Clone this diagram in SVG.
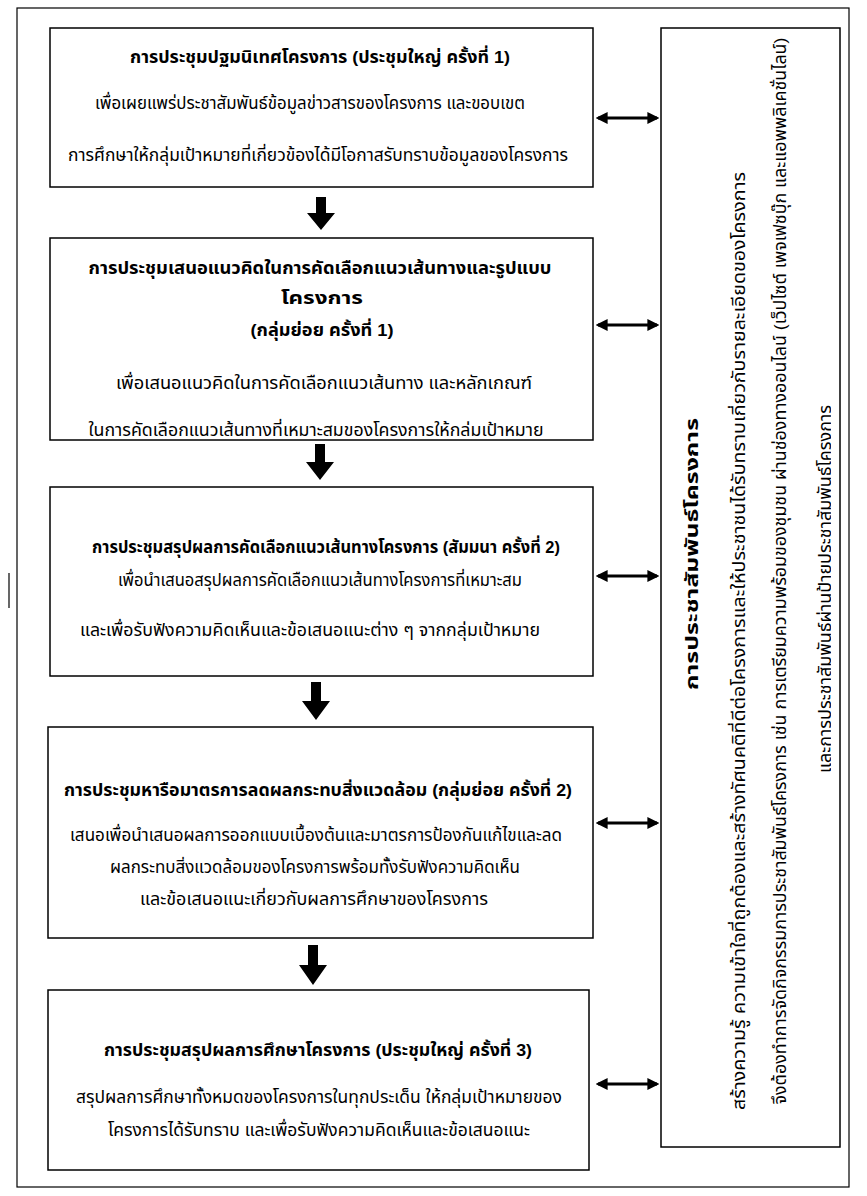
<svg xmlns="http://www.w3.org/2000/svg" width="867" height="1196" viewBox="0 0 867 1196">
<style>
.box{fill:#fff;stroke:#000;stroke-width:1.5}
.frame{fill:none;stroke:#000;stroke-width:1.2}
text{font-family:"Liberation Sans","Noto Sans Thai","Noto Sans","DejaVu Sans",sans-serif;font-size:17px;fill:#000;text-anchor:middle}
.b{font-weight:bold;font-size:17px}
.dbl{stroke:#000;stroke-width:3;fill:none;marker-start:url(#ah);marker-end:url(#ah)}
.down{fill:#000}
</style>
<defs>
<marker id="ah" viewBox="0 0 10 10" refX="8" refY="5" markerWidth="4" markerHeight="4" orient="auto-start-reverse" markerUnits="strokeWidth">
<path d="M0,0 L10,5 L0,10 z" fill="#000"/>
</marker>
<clipPath id="clip4"><rect x="800" y="28" width="31" height="1119"/></clipPath>
</defs>
<rect width="867" height="1196" fill="#fff"/>
<rect class="frame" x="17" y="8" width="832" height="1179"/>
<line x1="9" y1="573" x2="9" y2="608" stroke="#000" stroke-width="1.2"/>

<g id="n1">
<rect class="box" x="50" y="28" width="543" height="159"/>
<text class="b" x="320" y="63" textLength="380" lengthAdjust="spacingAndGlyphs">การประชุมปฐมนิเทศโครงการ (ประชุมใหญ่ ครั้งที่ 1)</text>
<text x="310" y="109" textLength="430" lengthAdjust="spacingAndGlyphs">เพื่อเผยแพร่ประชาสัมพันธ์ข้อมูลข่าวสารของโครงการ  และขอบเขต</text>
<text x="318" y="161" textLength="500" lengthAdjust="spacingAndGlyphs">การศึกษาให้กลุ่มเป้าหมายที่เกี่ยวข้องได้มีโอกาสรับทราบข้อมูลของโครงการ</text>
</g>

<g id="n2">
<rect class="box" x="50" y="238" width="543" height="202"/>
<text class="b" x="320" y="274" textLength="463" lengthAdjust="spacingAndGlyphs">การประชุมเสนอแนวคิดในการคัดเลือกแนวเส้นทางและรูปแบบ</text>
<text class="b" x="322" y="304" textLength="82" lengthAdjust="spacingAndGlyphs">โครงการ</text>
<text class="b" x="322" y="336" textLength="143" lengthAdjust="spacingAndGlyphs">(กลุ่มย่อย ครั้งที่ 1)</text>
<text x="324" y="389" textLength="416" lengthAdjust="spacingAndGlyphs">เพื่อเสนอแนวคิดในการคัดเลือกแนวเส้นทาง  และหลักเกณฑ์</text>
<text x="316" y="436" textLength="455" lengthAdjust="spacingAndGlyphs">ในการคัดเลือกแนวเส้นทางที่เหมาะสมของโครงการให้กล่มเป้าหมาย</text>
</g>

<g id="n3">
<rect class="box" x="50" y="487" width="543" height="189"/>
<text class="b" x="326" y="553" textLength="468" lengthAdjust="spacingAndGlyphs">การประชุมสรุปผลการคัดเลือกแนวเส้นทางโครงการ (สัมมนา ครั้งที่ 2)</text>
<text x="320" y="586" textLength="404" lengthAdjust="spacingAndGlyphs">เพื่อนำเสนอสรุปผลการคัดเลือกแนวเส้นทางโครงการที่เหมาะสม</text>
<text x="310" y="636" textLength="460" lengthAdjust="spacingAndGlyphs">และเพื่อรับฟังความคิดเห็นและข้อเสนอแนะต่าง  ๆ จากกลุ่มเป้าหมาย</text>
</g>

<g id="n4">
<rect class="box" x="48" y="727" width="545" height="211"/>
<text class="b" x="318" y="796" textLength="508" lengthAdjust="spacingAndGlyphs">การประชุมหารือมาตรการลดผลกระทบสิ่งแวดล้อม (กลุ่มย่อย ครั้งที่ 2)</text>
<text x="316" y="841" textLength="492" lengthAdjust="spacingAndGlyphs">เสนอเพื่อนำเสนอผลการออกแบบเบื้องต้นและมาตรการป้องกันแก้ไขและลด</text>
<text x="315" y="873" textLength="410" lengthAdjust="spacingAndGlyphs">ผลกระทบสิ่งแวดล้อมของโครงการพร้อมทั้งรับฟังความคิดเห็น</text>
<text x="314" y="905" textLength="348" lengthAdjust="spacingAndGlyphs">และข้อเสนอแนะเกี่ยวกับผลการศึกษาของโครงการ</text>
</g>

<g id="n5">
<rect class="box" x="48" y="990" width="541" height="180"/>
<text class="b" x="318" y="1056" textLength="428" lengthAdjust="spacingAndGlyphs">การประชุมสรุปผลการศึกษาโครงการ (ประชุมใหญ่ ครั้งที่ 3)</text>
<text x="319" y="1103" textLength="486" lengthAdjust="spacingAndGlyphs">สรุปผลการศึกษาทั้งหมดของโครงการในทุกประเด็น ให้กลุ่มเป้าหมายของ</text>
<text x="319" y="1136" textLength="422" lengthAdjust="spacingAndGlyphs">โครงการได้รับทราบ และเพื่อรับฟังความคิดเห็นและข้อเสนอแนะ</text>
</g>

<g id="n6">
<rect class="box" x="661" y="28" width="179" height="1119"/>
<text class="b" transform="translate(698,554) rotate(-90)" x="0" y="0" textLength="272" lengthAdjust="spacingAndGlyphs">การประชาสัมพันธ์โครงการ</text>
<text transform="translate(745,641) rotate(-90)" x="0" y="0" textLength="938" lengthAdjust="spacingAndGlyphs">สร้างความรู้ ความเข้าใจที่ถูกต้องและสร้างทัศนคติที่ดีต่อโครงการและให้ประชาชนได้รับทราบเกี่ยวกับรายละเอียดของโครงการ</text>
<text transform="translate(786,571) rotate(-90)" x="0" y="0" textLength="1067" lengthAdjust="spacingAndGlyphs">จึงต้องทำการจัดกิจกรรมการประชาสัมพันธ์โครงการ เช่น การเตรียมความพร้อมของชุมชน  ผ่านช่องทางออนไลน์ (เว็ปไซต์ เพจเฟซบุ๊ก และแอพพลิเคชั่นไลน์)</text>
<g clip-path="url(#clip4)">
<text transform="translate(831,589) rotate(-90)" x="0" y="0" textLength="368" lengthAdjust="spacingAndGlyphs">และการประชาสัมพันธ์ผ่านป้ายประชาสัมพันธ์โครงการ</text>
</g>
</g>

<g id="connectors">
<path class="down" d="M316,197 H326 V213 H335 L321,230 L307,213 H316 Z"/>
<path class="down" d="M315,444 H325 V462 H334 L320,480 L306,462 H315 Z"/>
<path class="down" d="M311,682 H321 V701 H330 L316,720 L302,701 H311 Z"/>
<path class="down" d="M308,945 H318 V965 H327 L313,985 L299,965 H308 Z"/>
<line class="dbl" x1="598" y1="118" x2="657" y2="118"/>
<line class="dbl" x1="598" y1="325" x2="657" y2="325"/>
<line class="dbl" x1="598" y1="576" x2="657" y2="576"/>
<line class="dbl" x1="598" y1="823" x2="657" y2="823"/>
<line class="dbl" x1="598" y1="1084" x2="657" y2="1084"/>
</g>
</svg>
